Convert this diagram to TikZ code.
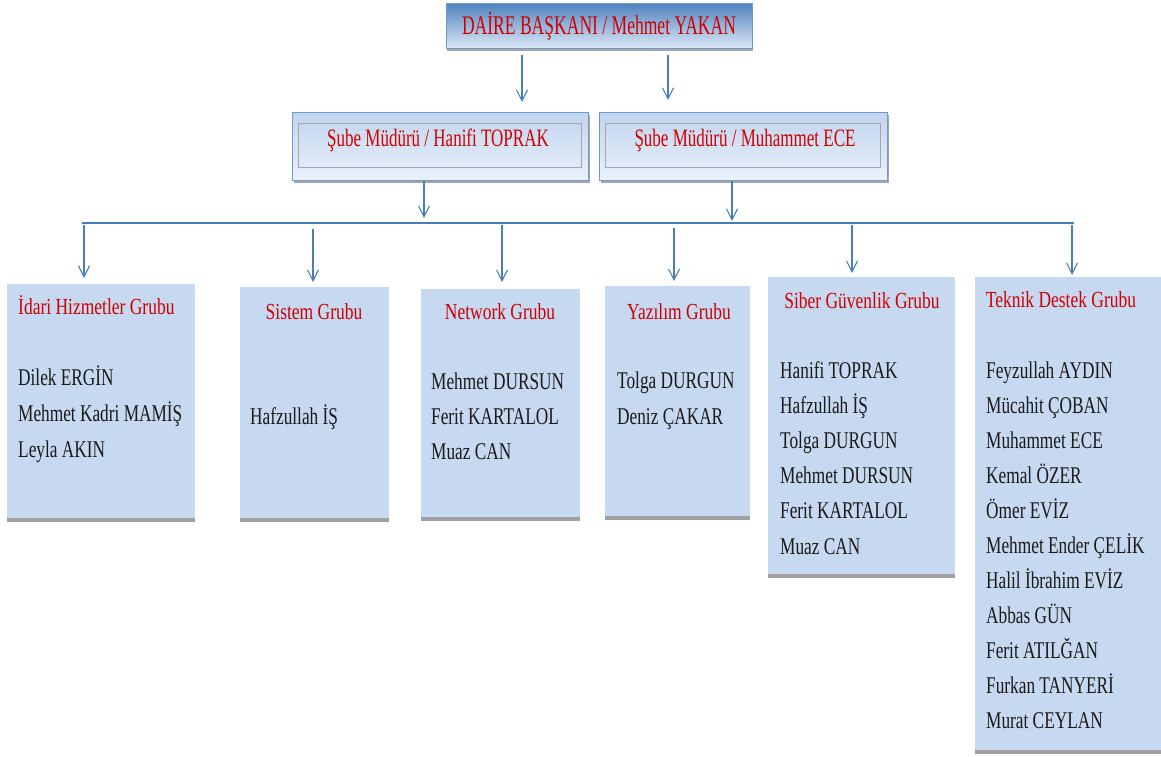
\documentclass[tikz,border=0pt]{standalone}
\usepackage{fontspec}
\setmainfont{Liberation Serif}
\newfontfamily\topf{Liberation Serif}[FakeStretch=0.65]
\newfontfamily\secf{Liberation Serif}[FakeStretch=0.68]
\newfontfamily\ttlf{Liberation Serif}[FakeStretch=0.76]
\newfontfamily\nmf{Liberation Serif}[FakeStretch=0.72]
\usetikzlibrary{arrows.meta,shadows,calc}
\definecolor{lineblue}{HTML}{4A7EBB}
\definecolor{titlered}{HTML}{D00000}
\definecolor{grpfill}{HTML}{C6D9F1}
\definecolor{shgray}{HTML}{A0A0A0}
\definecolor{topA}{HTML}{4F81BD}
\definecolor{topB}{HTML}{DCE8F7}
\definecolor{secA}{HTML}{C0D4EE}
\definecolor{secB}{HTML}{EAF1FB}
\definecolor{secBorder}{HTML}{6F9BD1}
\definecolor{nmcol}{HTML}{1A1A1A}
\begin{document}
\begin{tikzpicture}[x=1pt,y=1pt,
  arr/.style={draw=lineblue, line width=1.1pt, -{Straight Barb[length=11pt,width=11pt,line width=1.1pt]}},
  busline/.style={draw=lineblue, line width=1.6pt},
  topbox/.style={draw=secBorder, line width=0.8pt, top color=topA, bottom color=topB, inner sep=0pt,
    drop shadow={shadow xshift=1pt, shadow yshift=-3pt, fill=black, opacity=0.35},
    text=titlered, font=\topf\fontsize{27}{30}\selectfont, text height=18pt, text depth=0pt},
  secbox/.style={draw=secBorder, line width=1pt, top color=secA, bottom color=secB, inner sep=0pt,
    drop shadow={shadow xshift=2pt, shadow yshift=-3pt, fill=black, opacity=0.35}},
  secinner/.style={draw=gray!70, line width=0.8pt},
  sectxt/.style={text=titlered, font=\secf\fontsize{25}{28}\selectfont, inner sep=0pt, text height=17pt, text depth=0pt},
  grp/.style={fill=grpfill, draw=none, anchor=north west, inner sep=0pt,
    drop shadow={shadow xshift=0pt, shadow yshift=-4pt, fill=shgray, opacity=1}},
  ttl/.style={text=titlered, font=\ttlf\fontsize{23}{25}\selectfont, inner sep=0pt, text height=15pt, text depth=0pt},
  nm/.style={anchor=west, text=nmcol, font=\nmf\fontsize{24}{26}\selectfont, inner sep=0pt, text height=16pt, text depth=0pt}
]
\useasboundingbox (0,0) rectangle (1161,-756);
\fill[white] (0,0) rectangle (1161,-756);

% top box
\node[topbox, minimum width=306pt, minimum height=45pt] (top) at (599,-25.5) {DAİRE BAŞKANI / Mehmet YAKAN};

% second row
\node[secbox, minimum width=296pt, minimum height=68pt] (sm1) at (440,-146) {};
\node[secbox, minimum width=288pt, minimum height=68pt] (sm2) at (743,-146) {};
\draw[secinner] ($(sm1.north west)+(7,-12)$) rectangle ($(sm1.south east)+(-7,13)$);
\draw[secinner] ($(sm2.north west)+(7,-12)$) rectangle ($(sm2.south east)+(-7,13)$);
\node[sectxt] (sm1t) at (438,-138) {Şube Müdürü / Hanifi TOPRAK};
\node[sectxt] (sm2t) at (745,-138) {Şube Müdürü / Muhammet ECE};

% arrows top -> second row
\coordinate (a1) at (522,-102);
\coordinate (a2) at (668,-100);
\draw[arr] ($(top.south -| a1)+(0,-7)$) -- (a1);
\draw[arr] ($(top.south -| a2)+(0,-7)$) -- (a2);

% bus
\coordinate (busL) at (82,-223);
\coordinate (busR) at (1074,-223);
\draw[busline] (busL) -- (busR);
\coordinate (b1) at (424,-218);
\coordinate (b2) at (732,-221);
\draw[arr] (sm1.south -| b1) -- (b1);
\draw[arr] (sm2.south -| b2) -- (b2);

% group boxes
\node[grp, minimum width=188pt, minimum height=234pt] (g1) at (7,-284) {};
\node[grp, minimum width=149pt, minimum height=231pt] (g2) at (240,-287) {};
\node[grp, minimum width=159pt, minimum height=228pt] (g3) at (421,-289) {};
\node[grp, minimum width=145pt, minimum height=230pt] (g4) at (605,-286) {};
\node[grp, minimum width=187pt, minimum height=297pt] (g5) at (768,-277) {};
\node[grp, minimum width=192pt, minimum height=473pt] (g6) at (975,-277) {};

% drop arrows
\coordinate (d1) at (84,-225);
\coordinate (d2) at (313,-229);
\coordinate (d3) at (502,-225);
\coordinate (d4) at (674,-228);
\coordinate (d5) at (852,-225);
\coordinate (d6) at (1072,-225);
\draw[arr] (d1) -- ($(g1.north -| d1)+(0,6)$);
\draw[arr] (d2) -- ($(g2.north -| d2)+(0,5)$);
\draw[arr] (d3) -- ($(g3.north -| d3)+(0,7)$);
\draw[arr] (d4) -- ($(g4.north -| d4)+(0,5)$);
\draw[arr] (d5) -- ($(g5.north -| d5)+(0,4)$);
\draw[arr] (d6) -- ($(g6.north -| d6)+(0,2)$);

% titles
\node[ttl, anchor=west] (t1) at (18,-307) {İdari Hizmetler Grubu};
\node[ttl] (t2) at (314,-312) {Sistem Grubu};
\node[ttl] (t3) at (500,-312) {Network Grubu};
\node[ttl] (t4) at (679,-312) {Yazılım Grubu};
\node[ttl] (t5) at (862,-301) {Siber Güvenlik Grubu};
\node[ttl] (t6) at (1061,-300) {Teknik Destek Grubu};

% names
\foreach \t [count=\i] in {Dilek ERGİN, Mehmet Kadri MAMİŞ, Leyla AKIN}
  \node[nm] (n1-\i) at (18,{-377-36*(\i-1)}) {\t};
\node[nm] (n2-1) at (250,-416) {Hafzullah İŞ};
\foreach \t [count=\i] in {Mehmet DURSUN, Ferit KARTALOL, Muaz CAN}
  \node[nm] (n3-\i) at (431,{-381-35*(\i-1)}) {\t};
\foreach \t [count=\i] in {Tolga DURGUN, Deniz ÇAKAR}
  \node[nm] (n4-\i) at (617,{-380-36*(\i-1)}) {\t};
\foreach \t [count=\i] in {Hanifi TOPRAK, Hafzullah İŞ, Tolga DURGUN, Mehmet DURSUN, Ferit KARTALOL, Muaz CAN}
  \node[nm] (n5-\i) at (780,{-370-35.2*(\i-1)}) {\t};
\foreach \t [count=\i] in {Feyzullah AYDIN, Mücahit ÇOBAN, Muhammet ECE, Kemal ÖZER, Ömer EVİZ, Mehmet Ender ÇELİK, Halil İbrahim EVİZ, Abbas GÜN, Ferit ATILĞAN, Furkan TANYERİ, Murat CEYLAN}
  \node[nm] (n6-\i) at (986,{-370-35*(\i-1)}) {\t};
\end{tikzpicture}
\end{document}
